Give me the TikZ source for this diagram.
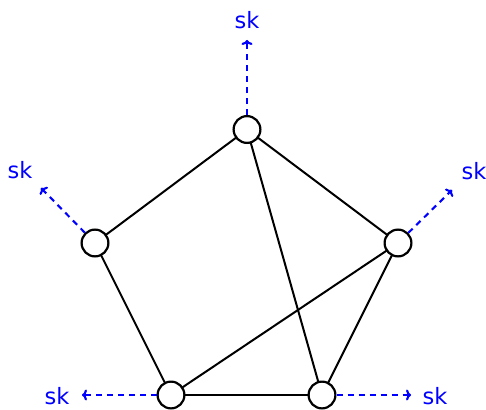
\documentclass[tikz,border=0pt]{standalone}
\usepackage{fontspec}
\setmainfont{DejaVu Sans}
\usetikzlibrary{arrows.meta}
\definecolor{SkBlue}{HTML}{0000FF}
\tikzset{
  vertex/.style={circle, draw=black, line width=2.2pt, fill=white, minimum size=26.8pt, inner sep=0pt},
  edge/.style={draw=black, line width=2pt},
  skarrow/.style={-{To[length=5pt,width=11pt]}, dash pattern=on 6pt off 5pt, line width=2.1pt, draw=SkBlue},
  sklabel/.style={text=SkBlue, font=\fontsize{22.5}{22.5}\selectfont, inner sep=0pt}
}

\begin{document}
\begin{tikzpicture}[x=1pt, y=-1pt]
\useasboundingbox (0,0) rectangle (486,409);
% edges
\coordinate (p1) at (247,129.5);
\coordinate (p2) at (398,243);
\coordinate (p3) at (322,395);
\coordinate (p4) at (171,395);
\coordinate (p5) at (95,243);
\draw[edge] (p1) -- (p5);
\draw[edge] (p1) -- (p2);
\draw[edge] (p1) -- (p3);
\draw[edge] (p5) -- (p4);
\draw[edge] (p2) -- (p3);
\draw[edge] (p2) -- (p4);
\draw[edge] (p4) -- (p3);
% vertices
\node[vertex] (v1) at (p1) {};
\node[vertex] (v2) at (p2) {};
\node[vertex] (v3) at (p3) {};
\node[vertex] (v4) at (p4) {};
\node[vertex] (v5) at (p5) {};
% outgoing sk
\coordinate (t1) at (247,40);
\coordinate (t2) at (452,190);
\coordinate (t3) at (411,395);
\coordinate (t4) at (82,395);
\coordinate (t5) at (41,188);
\draw[skarrow] (v1) -- (t1);
\draw[skarrow] (v2) -- (t2);
\draw[skarrow] (v3) -- (t3);
\draw[skarrow] (v4) -- (t4);
\draw[skarrow] (v5) -- (t5);
\node[sklabel] (s1) at (247,20) {sk};
\node[sklabel] (s2) at (474,171) {sk};
\node[sklabel] (s3) at (435,396) {sk};
\node[sklabel] (s4) at (57,396) {sk};
\node[sklabel] (s5) at (20,170) {sk};
\end{tikzpicture}
\end{document}
